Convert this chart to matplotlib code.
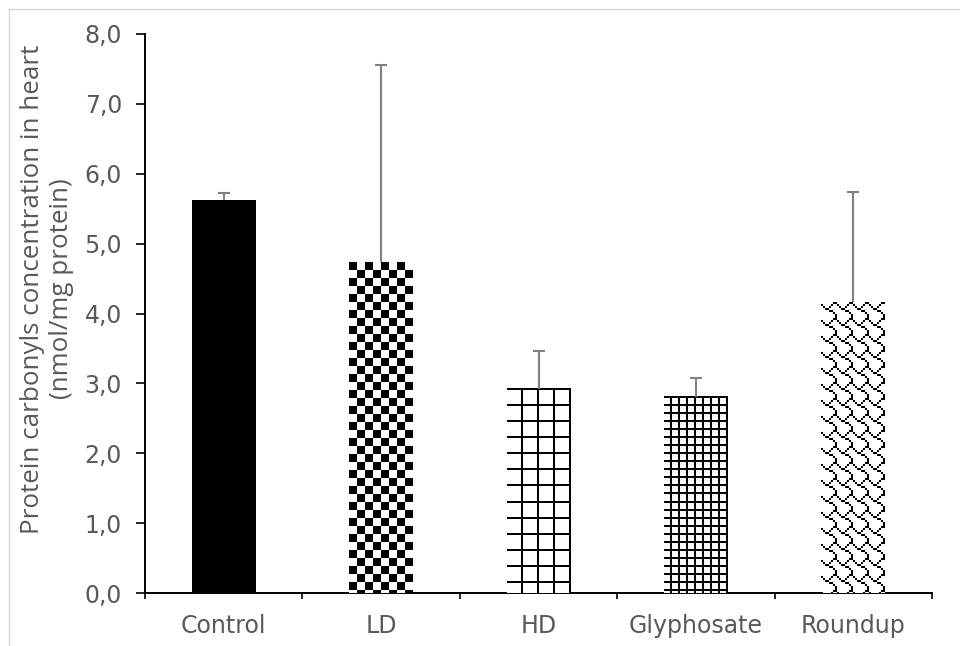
import numpy as np
import matplotlib
matplotlib.use("Agg")
import matplotlib.pyplot as plt
from matplotlib.colors import ListedColormap
from matplotlib.lines import Line2D
from matplotlib.ticker import FuncFormatter, FixedLocator

# data
groups = ["Control", "LD", "HD", "Glyphosate", "Roundup"]
means = [5.63, 4.73, 2.92, 2.81, 4.16]
err_up = [0.10, 2.82, 0.54, 0.26, 1.58]
y_ticks = [0, 1, 2, 3, 4, 5, 6, 7, 8]

# 8x8 fill bitmaps (office style pattern fills), MSB = left pixel
PATTERNS = {
    "LD": [0xf0, 0xf0, 0xf0, 0xf0, 0x0f, 0x0f, 0x0f, 0x0f],   # large checkerboard
    "HD": [0xff, 0x01, 0x01, 0x01, 0x01, 0x01, 0x01, 0x01],   # large grid
    "Glyphosate": [0xff, 0x11, 0x11, 0x11, 0xff, 0x11, 0x11, 0x11],  # small grid
    "Roundup": [0x03, 0x84, 0x48, 0x30, 0x0c, 0x02, 0x01, 0x01],     # shingle
}
PIX = 2  # device pixels per bitmap pixel

GREY = "#595959"


def bitmap(rows):
    bits = np.array([[(r >> (7 - k)) & 1 for k in range(8)] for r in rows])
    return np.kron(bits, np.ones((PIX, PIX), dtype=int))


fig = plt.figure(figsize=(9.6, 6.46), dpi=100)
ax = fig.add_axes([145 / 960, 53 / 646, 787 / 960, 559 / 646])
ax.set_xlim(-0.5, 4.5)
ax.set_ylim(0, 8)

x = np.arange(len(groups))
colors = ["black" if g == "Control" else "white" for g in groups]
bars = ax.bar(x, means, width=0.405, color=colors, edgecolor="none", zorder=2)

# fill the pattern bars with tiled bitmaps, one image pixel per device pixel
cmap = ListedColormap(["white", "black"])
for g, b in zip(groups, bars):
    if g not in PATTERNS:
        continue
    x0, w, h = b.get_x(), b.get_width(), b.get_height()
    p0 = ax.transData.transform((x0, 0))
    p1 = ax.transData.transform((x0 + w, h))
    nx = max(1, int(round(p1[0] - p0[0])))
    ny = max(1, int(round(p1[1] - p0[1])))
    tile = bitmap(PATTERNS[g])
    th, tw = tile.shape
    img = np.tile(tile, (ny // th + 1, nx // tw + 1))[:ny, :nx]
    ax.imshow(img, cmap=cmap, vmin=0, vmax=1, extent=(x0, x0 + w, 0, h),
              aspect="auto", interpolation="nearest", origin="upper", zorder=3)

eb = ax.errorbar(x, means, yerr=[np.zeros(len(means)), err_up], fmt="none",
                 ecolor="#808080", elinewidth=1.5, capsize=4.5, capthick=1.5,
                 zorder=4)
eb[1][0].remove()  # no cap at the bar top

ax.set_xlim(-0.5, 4.5)
ax.set_ylim(0, 8)

for s in ["top", "right"]:
    ax.spines[s].set_visible(False)
for s in ["left", "bottom"]:
    ax.spines[s].set_linewidth(1.4)
    ax.spines[s].set_color("black")

ax.set_yticks(y_ticks)
ax.yaxis.set_major_formatter(FuncFormatter(lambda v, p: f"{v:.1f}".replace(".", ",")))
ax.tick_params(axis="y", direction="out", length=6.5, width=1.2, pad=10,
               labelsize=17, labelcolor=GREY)

ax.set_xticks(x)
ax.set_xticklabels(groups)
ax.xaxis.set_minor_locator(FixedLocator(np.arange(-0.5, 4.6, 1.0)))
ax.tick_params(axis="x", which="major", length=0, pad=15, labelsize=17,
               labelcolor=GREY)
ax.tick_params(axis="x", which="minor", direction="out", length=4, width=1.2)

fig.text(47 / 960, 1 - 289 / 646,
         "Protein carbonyls concentration in heart\n(nmol/mg protein)",
         rotation=90, ha="center", va="center", multialignment="center",
         fontsize=18.7, color=GREY, family="Open Sans", linespacing=1.22)

# light chart-area frame (left and top edges only are inside the picture)
frame = dict(color="#d9d9d9", linewidth=1.0, transform=fig.transFigure)
fig.add_artist(Line2D([8.5 / 960, 8.5 / 960], [0, 1 - 8.5 / 646], **frame))
fig.add_artist(Line2D([8.5 / 960, 1], [1 - 8.5 / 646, 1 - 8.5 / 646], **frame))

fig.savefig("out.png", dpi=100)
